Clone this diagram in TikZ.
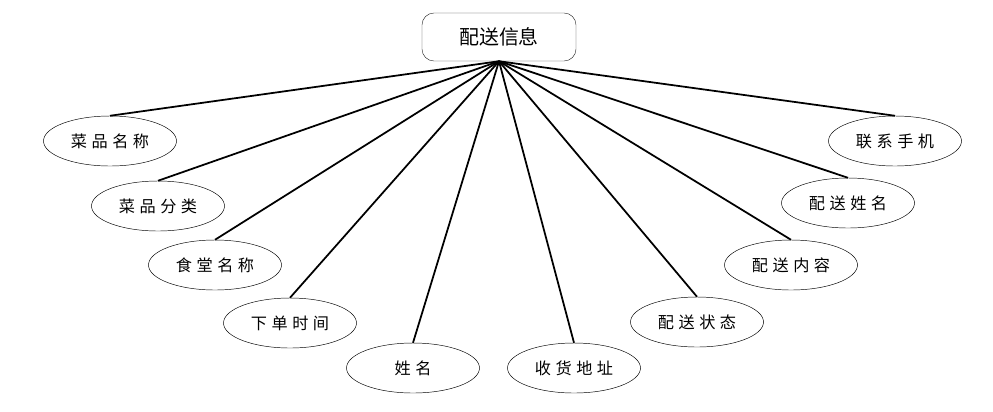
\documentclass[tikz,border=0pt]{standalone}
\usepackage{fontspec}
\setmainfont{Noto Sans CJK SC}
\newfontfamily\cjk{Noto Sans CJK SC}
\usetikzlibrary{shapes.geometric}

\begin{document}
\begin{tikzpicture}[x=0.03cm, y=-0.03cm,
  ent/.style={draw=black!80, rounded corners=0.36cm, minimum width=4.62cm, minimum height=1.44cm,
    inner sep=0pt, font=\fontsize{17pt}{17pt}\cjk},
  attr/.style={draw, ellipse, minimum width=3.99cm, minimum height=1.5cm, inner sep=0pt,
    font=\fontsize{13.8pt}{13.8pt}\cjk\addfontfeature{LetterSpace=28}},
  lnk/.style={line width=1.5pt}
]
  \useasboundingbox (0,0) rectangle (993,411);
  \node[ent] (info) at (499,37) {配送信息};

  \node[attr] (dish)    at (110,141) {菜品名称};
  \node[attr] (cat)     at (158,206) {菜品分类};
  \node[attr] (canteen) at (215,265) {食堂名称};
  \node[attr] (time)    at (290,323) {下单时间};
  \node[attr] (name)    at (413,368) {姓名};
  \node[attr] (addr)    at (574,368) {收货地址};
  \node[attr] (state)   at (697,322) {配送状态};
  \node[attr] (content) at (791,265) {配送内容};
  \node[attr] (courier) at (848,203) {配送姓名};
  \node[attr] (phone)   at (895,141) {联系手机};

  \foreach \n in {dish,cat,canteen,time,name,addr,state,content,courier,phone} {
    \draw[lnk] (info.south) -- (\n.north);
  }
\end{tikzpicture}
\end{document}
